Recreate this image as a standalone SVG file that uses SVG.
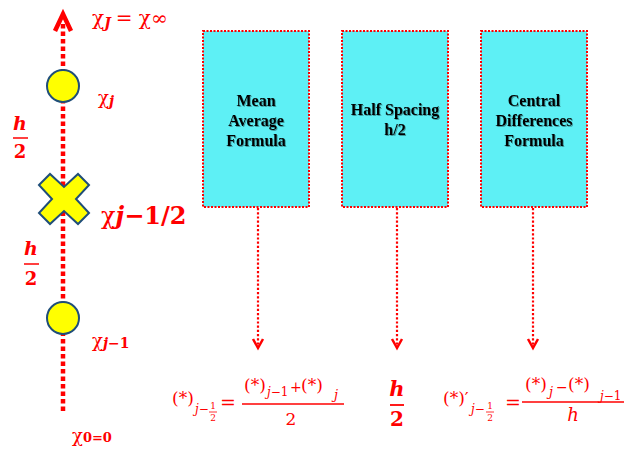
<svg xmlns="http://www.w3.org/2000/svg" width="624" height="449" viewBox="0 0 624 449">
<style>
.r{fill:#ff0000;font-family:"DejaVu Serif","Liberation Serif",serif}
.b{font-weight:bold}
.i{font-style:italic}
.box{fill:#5ef0f5;stroke:#ff0000;stroke-width:2;stroke-dasharray:2 1.5}
.bt{font-family:"Liberation Serif",serif;font-weight:bold;font-size:16px;fill:#000;text-anchor:middle}
.con{stroke:#ff0000;stroke-width:2.2;stroke-dasharray:2.2 2;fill:none}
.ah{stroke:#ff0000;stroke-width:2.5;fill:none}
.pt{fill:#ffff00;stroke:#1f4e79;stroke-width:2}
</style>
<defs>
<filter id="sh" x="-10%" y="-10%" width="130%" height="130%">
<feDropShadow dx="1" dy="1" stdDeviation="0.6" flood-color="#000" flood-opacity="0.35"/>
</filter>
</defs>
<g id="axis">
<line x1="63" y1="24" x2="63" y2="414" stroke="#ff0000" stroke-width="4.5" stroke-dasharray="4.5 3"/>
<polyline points="55,31 63,14 71,31" fill="none" stroke="#ff0000" stroke-width="4.5" stroke-linejoin="miter"/>
</g>
<g id="node-xj"><circle class="pt" cx="63" cy="86" r="16"/></g>
<g id="node-xj1"><circle class="pt" cx="63" cy="318" r="16"/></g>
<g id="node-xhalf"><polygon class="pt" transform="translate(64,199)" points="-25,-14 -14,-25 0,-12 14,-25 25,-14 12,0 25,14 14,25 0,12 -14,25 -25,14 -12,0"/></g>
<g id="labels-axis" class="r">
<text x="92" y="25" font-size="20">χ<tspan class="i b" font-size="14" dy="3">J</tspan><tspan dy="-3" dx="5">= χ∞</tspan></text>
<text x="98" y="104" font-size="18">χ<tspan class="i b" font-size="14" dy="2">j</tspan></text>
<text x="101" y="224" font-size="24">χ<tspan class="b" font-size="24"><tspan class="i">j</tspan>−1/2</tspan></text>
<text x="92" y="347" font-size="18">χ<tspan class="b" font-size="14" dy="1"><tspan class="i">j</tspan>−1</tspan></text>
<text x="72" y="442" font-size="18">χ<tspan class="b" font-size="13">0=0</tspan></text>
<text x="20" y="130" font-size="19" class="b i" text-anchor="middle">h</text>
<line x1="13" y1="138" x2="28" y2="138" stroke="#ff0000" stroke-width="1.5"/>
<text x="20" y="158" font-size="18" class="b" text-anchor="middle">2</text>
<text x="31" y="255" font-size="19" class="b i" text-anchor="middle">h</text>
<line x1="24" y1="264" x2="39" y2="264" stroke="#ff0000" stroke-width="1.5"/>
<text x="31" y="285" font-size="18" class="b" text-anchor="middle">2</text>
</g>
<g id="box-mean">
<rect class="box" x="203" y="31" width="106" height="176"/>
<text class="bt" filter="url(#sh)"><tspan x="256" y="106">Mean</tspan><tspan x="256" y="126">Average</tspan><tspan x="256" y="146">Formula</tspan></text>
</g>
<g id="box-half">
<rect class="box" x="342" y="31" width="106" height="176"/>
<text class="bt" filter="url(#sh)"><tspan x="395" y="115">Half Spacing</tspan><tspan x="395" y="135">h/2</tspan></text>
</g>
<g id="box-central">
<rect class="box" x="481" y="31" width="106" height="176"/>
<text class="bt" filter="url(#sh)"><tspan x="534" y="106">Central</tspan><tspan x="534" y="126">Differences</tspan><tspan x="534" y="146">Formula</tspan></text>
</g>
<g id="connectors">
<line class="con" x1="258" y1="208" x2="258" y2="347"/>
<polyline class="ah" points="253,339 258,348 263,339"/>
<line class="con" x1="397" y1="208" x2="397" y2="347"/>
<polyline class="ah" points="392,339 397,348 402,339"/>
<line class="con" x1="533" y1="208" x2="533" y2="347"/>
<polyline class="ah" points="528,339 533,348 538,339"/>
</g>
<g id="formula-mean" class="r">
<text x="172" y="404" font-size="17">(*)</text>
<text x="195" y="413" font-size="12"><tspan class="i">j</tspan>−</text>
<text x="213" y="409" font-size="9" text-anchor="middle">1</text>
<line x1="209" y1="412" x2="217" y2="412" stroke="#ff0000" stroke-width="0.8"/>
<text x="213" y="421" font-size="9" text-anchor="middle">2</text>
<text x="220" y="409" font-size="19">=</text>
<text x="244" y="391" font-size="17">(*)</text>
<text x="267" y="396" font-size="12"><tspan class="i">j</tspan>−1</text>
<text x="290" y="392" font-size="14">+</text>
<text x="301" y="391" font-size="17">(*)</text>
<text x="334" y="399" font-size="13" class="i">j</text>
<line x1="242" y1="404" x2="344" y2="404" stroke="#ff0000" stroke-width="1.3"/>
<text x="291" y="425" font-size="17" text-anchor="middle">2</text>
</g>
<g id="formula-half" class="r">
<text x="397" y="396" font-size="21" class="b i" text-anchor="middle">h</text>
<line x1="390" y1="405" x2="404" y2="405" stroke="#ff0000" stroke-width="1.8"/>
<text x="397" y="426" font-size="20" class="b" text-anchor="middle">2</text>
</g>
<g id="formula-central" class="r">
<text x="443" y="404" font-size="17">(*)′</text>
<text x="471" y="413" font-size="12"><tspan class="i">j</tspan>−</text>
<text x="490" y="409" font-size="9" text-anchor="middle">1</text>
<line x1="486" y1="412" x2="494" y2="412" stroke="#ff0000" stroke-width="0.8"/>
<text x="490" y="421" font-size="9" text-anchor="middle">2</text>
<text x="505" y="409" font-size="19">=</text>
<text x="525" y="390" font-size="17">(*)</text>
<text x="549" y="396" font-size="13" class="i">j</text>
<text x="556" y="392" font-size="14">−</text>
<text x="568" y="390" font-size="17">(*)</text>
<text x="600" y="400" font-size="12"><tspan class="i">j</tspan>−1</text>
<line x1="522" y1="402" x2="624" y2="402" stroke="#ff0000" stroke-width="1.3"/>
<text x="573" y="421" font-size="18" class="i" text-anchor="middle">h</text>
</g>
</svg>
